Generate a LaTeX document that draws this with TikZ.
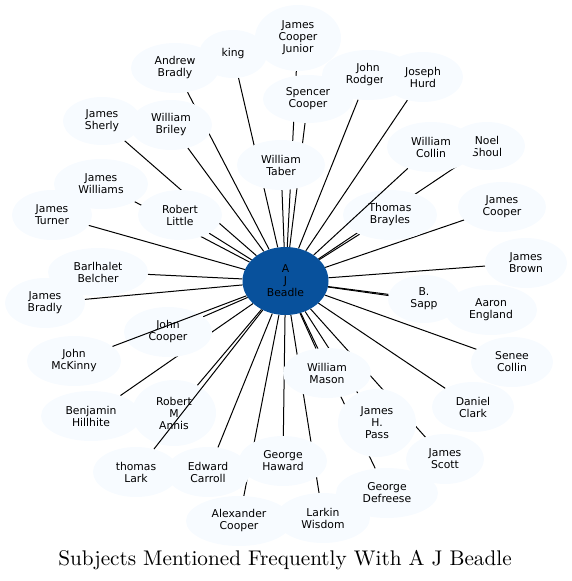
\documentclass[tikz,border=0pt]{standalone}
\usepackage{fontspec}
\newfontfamily\nodefont{DejaVu Sans}
\newfontfamily\titlefont{lmroman10-regular}[Extension=.otf]
\usetikzlibrary{shapes.geometric}
\definecolor{nodefill}{HTML}{F7FBFF}
\definecolor{centerfill}{HTML}{08519C}
\pgfdeclarelayer{edgelayer}
\pgfsetlayers{edgelayer,main}
\tikzset{
  person/.style={ellipse, fill=nodefill, inner sep=0pt, align=center,
    font=\nodefont\fontsize{10.8}{12}\selectfont, text=black},
  hub/.style={person, fill=centerfill},
  link/.style={draw=black, line width=1pt},
  title/.style={font=\titlefont\fontsize{21.2}{25}\selectfont, anchor=base, inner sep=0pt}
}
\begin{document}
\begin{tikzpicture}[x=1pt, y=-1pt]
\useasboundingbox (0,0) rectangle (571,581);
% centre
\node[hub, minimum width=86pt, minimum height=68pt] (c) at (285.5,281) {A\\J\\Beadle};
% others
\node[person, minimum width=86pt, minimum height=66pt] (jcj) at (298,38) {James\\Cooper\\Junior};
\node[person, minimum width=68pt, minimum height=48pt] (king) at (233,54) {king};
\node[person, minimum width=88pt, minimum height=50pt] (abr) at (175,68) {Andrew\\Bradly};
\node[person, minimum width=92pt, minimum height=50pt] (jro) at (368,75) {John\\Rodgers};
\node[person, minimum width=80pt, minimum height=50pt] (jhu) at (423,77) {Joseph\\Hurd};
\node[person, minimum width=90pt, minimum height=48pt] (sco) at (308,99) {Spencer\\Cooper};
\node[person, minimum width=78pt, minimum height=48pt] (jsh) at (102,121) {James\\Sherly};
\node[person, minimum width=82pt, minimum height=50pt] (wbr) at (171,125) {William\\Briley};
\node[person, minimum width=88pt, minimum height=50pt] (wta) at (281,165) {William\\Taber};
\node[person, minimum width=76pt, minimum height=48pt] (nsh) at (487,146) {Noel\\Shoul};
\node[person, minimum width=88pt, minimum height=50pt] (wco) at (431,147) {William\\Collin};
\node[person, minimum width=94pt, minimum height=50pt] (jwi) at (101,184) {James\\Williams};
\node[person, minimum width=80pt, minimum height=50pt] (jtu) at (52,215) {James\\Turner};
\node[person, minimum width=84pt, minimum height=50pt] (rli) at (180,215) {Robert\\Little};
\node[person, minimum width=94pt, minimum height=50pt] (tbr) at (390,215) {Thomas\\Brayles};
\node[person, minimum width=88pt, minimum height=50pt] (jco) at (502,207) {James\\Cooper};
\node[person, minimum width=100pt, minimum height=48pt] (bbe) at (98,272) {Barlhalet\\Belcher};
\node[person, minimum width=82pt, minimum height=50pt] (jbo) at (526,263) {James\\Brown};
\node[person, minimum width=80pt, minimum height=50pt] (jbr) at (45,303) {James\\Bradly};
\node[person, minimum width=92pt, minimum height=50pt] (aen) at (491,310) {Aaron\\England};
\node[person, minimum width=72pt, minimum height=48pt] (bsa) at (424,299) {B.\\Sapp};
\node[person, minimum width=88pt, minimum height=50pt] (jcoo) at (168,332) {John\\Cooper};
\node[person, minimum width=94pt, minimum height=50pt] (jmc) at (74,361) {John\\McKinny};
\node[person, minimum width=82pt, minimum height=50pt] (sen) at (512,362) {Senee\\Collin};
\node[person, minimum width=88pt, minimum height=50pt] (wma) at (327,373) {William\\Mason};
\node[person, minimum width=100pt, minimum height=50pt] (bhi) at (91,416) {Benjamin\\Hillhite};
\node[person, minimum width=84pt, minimum height=66pt] (rma) at (174,413) {Robert\\M\\Annis};
\node[person, minimum width=82pt, minimum height=50pt] (dcl) at (473,407) {Daniel\\Clark};
\node[person, minimum width=78pt, minimum height=68pt] (jpa) at (377,423) {James\\H.\\Pass};
\node[person, minimum width=86pt, minimum height=50pt] (tla) at (136,472) {thomas\\Lark};
\node[person, minimum width=84pt, minimum height=50pt] (eca) at (208,472) {Edward\\Carroll};
\node[person, minimum width=88pt, minimum height=50pt] (gha) at (283,461) {George\\Haward};
\node[person, minimum width=78pt, minimum height=50pt] (jsc) at (445,459) {James\\Scott};
\node[person, minimum width=102pt, minimum height=50pt] (gde) at (387,493) {George\\Defreese};
\node[person, minimum width=106pt, minimum height=50pt] (aco) at (239,521) {Alexander\\Cooper};
\node[person, minimum width=94pt, minimum height=50pt] (lwi) at (323,518) {Larkin\\Wisdom};
% edges hidden under nodes
\begin{pgfonlayer}{edgelayer}
\foreach \n in {jcj,king,abr,jro,jhu,sco,jsh,wbr,wta,nsh,jwi,jtu,rli,tbr,jco,bbe,jbo,jbr,aen,bsa,jcoo,sen,wma,bhi,rma,dcl,jpa,eca,gha,jsc,gde,aco,lwi}
  \draw[link] (c) -- (\n);
\end{pgfonlayer}
% edges drawn over nodes
\draw[link] (c) -- (wco);
\draw[link] (c) -- (jmc);
\draw[link] (c) -- (tla);
% title
\node[title] (t) at (285,565) {Subjects Mentioned Frequently With A J Beadle};
\end{tikzpicture}
\end{document}
